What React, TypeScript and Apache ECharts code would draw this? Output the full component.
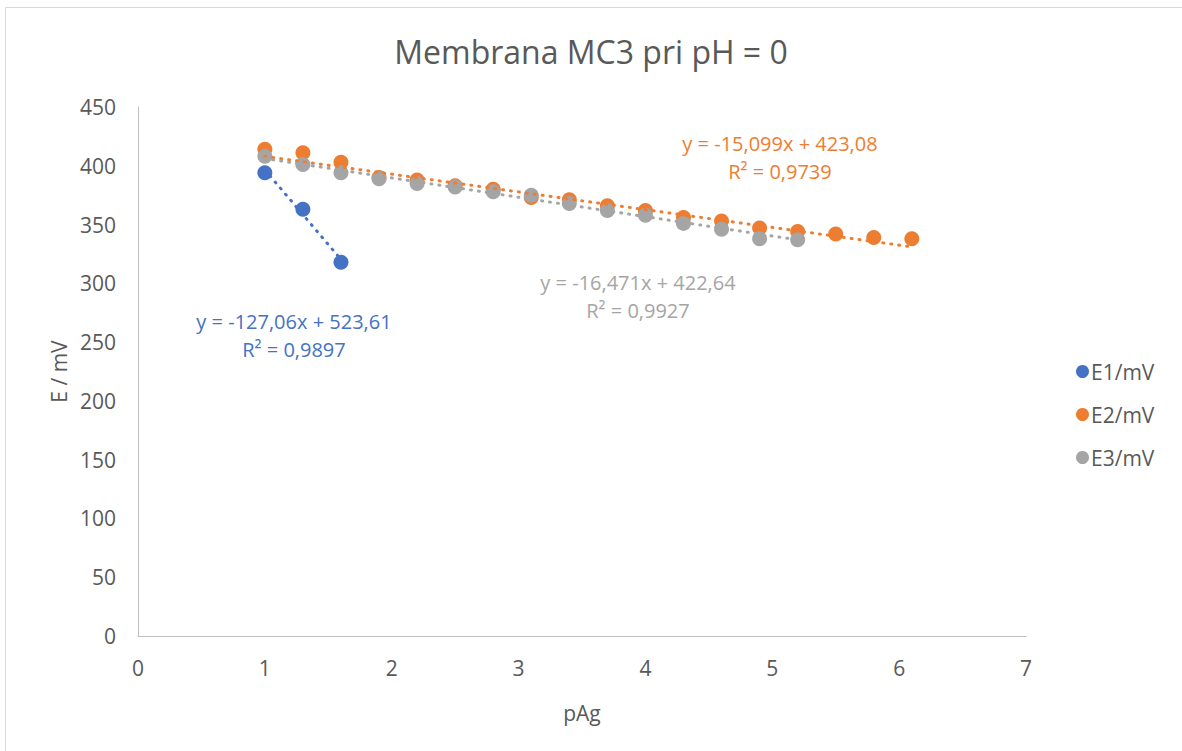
import React, { useEffect, useRef } from "react";
import * as echarts from "echarts";

const pAg1 = [1, 1.3, 1.6];
const e1 = [394, 363, 318];
const pAg2 = [1, 1.3, 1.6, 1.9, 2.2, 2.5, 2.8, 3.1, 3.4, 3.7, 4.0, 4.3, 4.6, 4.9, 5.2, 5.5, 5.8, 6.1];
const e2 = [414, 411, 403, 390, 388, 383, 380, 373, 371, 366, 362, 356, 353, 347, 344, 342, 339, 338];
const pAg3 = [1, 1.3, 1.6, 1.9, 2.2, 2.5, 2.8, 3.1, 3.4, 3.7, 4.0, 4.3, 4.6, 4.9, 5.2];
const e3 = [408, 401, 394, 389, 385, 382, 378, 375, 368, 362, 358, 351, 346, 338, 337];

const seriesNames = ["E1/mV", "E2/mV", "E3/mV"];
const colors = ["#4472C4", "#ED7D31", "#A5A5A5"];
const slopes = [-127.06, -15.099, -16.471];
const intercepts = [523.61, 423.08, 422.64];
const eqLabels = [
  ["y = -127,06x + 523,61", "R² = 0,9897"],
  ["y = -15,099x + 423,08", "R² = 0,9739"],
  ["y = -16,471x + 422,64", "R² = 0,9927"],
];
const xTicks = [0, 1, 2, 3, 4, 5, 6, 7];
const yTicks = [0, 50, 100, 150, 200, 250, 300, 350, 400, 450];

const FONT = "'Open Sans', 'Noto Sans', sans-serif";
const TXT = "#595959";

export default function App() {
  const ref = useRef<HTMLDivElement>(null);
  useEffect(() => {
    document.body.style.margin = "0";
    const chart = echarts.init(ref.current!, null, { renderer: "svg" });
    const xs = [pAg1, pAg2, pAg3];
    const ys = [e1, e2, e3];
    const scatter = xs.map((x, i) => ({
      name: seriesNames[i],
      type: "scatter",
      symbol: "circle",
      symbolSize: 15,
      itemStyle: { color: colors[i], opacity: 1 },
      z: 2,
      data: x.map((v, j) => [v, ys[i][j]]),
    }));
    const trends = xs.map((x, i) => {
      const x0 = x[0];
      const x1 = x[x.length - 1];
      return {
        name: "trend" + i,
        type: "line",
        symbol: "none",
        z: 3,
        lineStyle: { color: colors[i], width: 3, type: [1, 7], cap: "round" },
        data: [
          [x0, slopes[i] * x0 + intercepts[i]],
          [x1, slopes[i] * x1 + intercepts[i]],
        ],
      };
    });
    const labelPos = [
      [294, 321],
      [780, 143],
      [638, 282],
    ];
    const graphics: any[] = [
      {
        type: "rect",
        shape: { x: 5.5, y: 7.5, width: 1200, height: 800 },
        style: { fill: "none", stroke: "#d9d9d9", lineWidth: 1 },
        silent: true,
      },
    ];
    eqLabels.forEach((lines, i) => {
      lines.forEach((t, k) => {
        graphics.push({
          type: "text",
          x: labelPos[i][0],
          y: labelPos[i][1] + k * 28,
          style: {
            text: t,
            fill: colors[i],
            font: `20px ${FONT}`,
            align: "center",
            verticalAlign: "middle",
          },
        });
      });
    });
    chart.setOption({
      animation: false,
      backgroundColor: "#ffffff",
      title: {
        text: "Membrana MC3 pri pH = 0",
        left: "center",
        top: 30,
        textStyle: { color: TXT, fontFamily: FONT, fontSize: 32, fontWeight: "normal" },
      },
      grid: { left: 138, right: 156, top: 107, bottom: 115 },
      legend: {
        data: seriesNames,
        orient: "vertical",
        left: 1071,
        top: 356,
        icon: "circle",
        itemWidth: 13,
        itemHeight: 13,
        itemGap: 22,
        textStyle: { color: TXT, fontFamily: FONT, fontSize: 21, padding: [0, 0, 0, -3] },
      },
      xAxis: {
        type: "value",
        min: xTicks[0],
        max: xTicks[xTicks.length - 1],
        interval: 1,
        name: "pAg",
        nameLocation: "middle",
        nameGap: 66,
        nameTextStyle: { color: TXT, fontFamily: FONT, fontSize: 21 },
        axisLine: { show: true, lineStyle: { color: "#bfbfbf", width: 1 } },
        axisTick: { show: false },
        splitLine: { show: false },
        axisLabel: { color: TXT, fontFamily: FONT, fontSize: 21, margin: 21 },
      },
      yAxis: {
        type: "value",
        min: yTicks[0],
        max: yTicks[yTicks.length - 1],
        interval: 50,
        name: "E / mV",
        nameLocation: "middle",
        nameGap: 64,
        nameTextStyle: { color: TXT, fontFamily: FONT, fontSize: 21 },
        axisLine: { show: true, lineStyle: { color: "#bfbfbf", width: 1 } },
        axisTick: { show: false },
        splitLine: { show: false },
        axisLabel: { color: TXT, fontFamily: FONT, fontSize: 21, margin: 22 },
      },
      series: [...scatter, ...trends],
      graphic: graphics,
    });
    return () => chart.dispose();
  }, []);
  return <div ref={ref} style={{ width: 1182, height: 751 }} />;
}
